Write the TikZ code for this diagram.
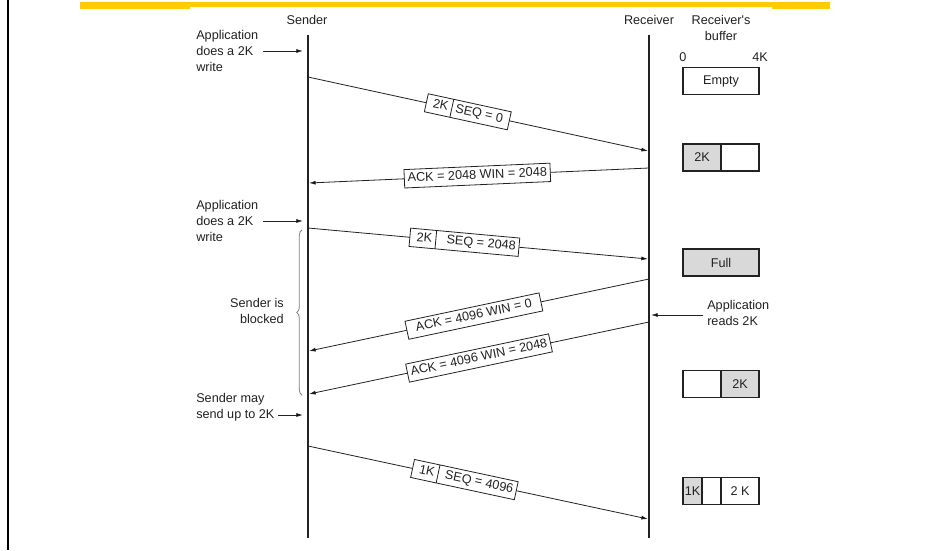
\documentclass[tikz,border=0pt]{standalone}
\usepackage{fontspec}
\setmainfont{Liberation Sans}[Ligatures=TeXOff]
\usetikzlibrary{arrows.meta,shapes.multipart,decorations.pathreplacing}
\definecolor{gold}{HTML}{FFCC00}
\definecolor{boxgray}{HTML}{D9D9D9}
\definecolor{ink}{HTML}{222222}
\begin{document}
\begin{tikzpicture}[x=0.75pt,y=-0.75pt, font=\fontsize{9.5}{12}\selectfont, text=ink,
 life/.style={draw=ink, line width=0.9pt},
 msg/.style={draw=ink, line width=0.6pt, -{Latex[length=5pt,width=3pt]}},
 lbl/.style={draw=ink, fill=white, line width=0.6pt, inner xsep=2.5pt, inner ysep=2.4pt, text height=7pt, text depth=2pt, sloped},
 splitlbl/.style={lbl, rectangle split, rectangle split horizontal, rectangle split parts=2},
 buf/.style={draw=ink, line width=0.8pt, minimum height=20.25pt, inner sep=0pt},
 note/.style={inner sep=0pt}
]
\useasboundingbox (0,0) rectangle (952,550);
\fill[white] (0,0) rectangle (952,550);
\draw[black, line width=1.5pt] (7.5,0) -- (7.5,550);
\fill[gold] (80,2) rectangle (830,8.5);
\fill[white] (190,7) rectangle (772,9);

% headings
\node[note] (hs) at (307,20) {Sender};
\node[note] (hr) at (649,20) {Receiver};
\node[note, align=center] (hb) at (721,28) {Receiver's\\buffer};
\node[note] (b0) at (683,57) {0};
\node[note] (b4) at (760,57) {4K};

% lifelines
\coordinate (st) at (308,35); \coordinate (sb) at (308,538);
\coordinate (rt) at (649,35); \coordinate (rb) at (649,538);
\draw[life] (st) -- (sb);
\draw[life] (rt) -- (rb);

% message end points
\coordinate (s1) at (308,77);  \coordinate (r1) at (648,151);
\coordinate (r2) at (649,168); \coordinate (s2) at (309,183);
\coordinate (s3) at (308,228); \coordinate (r3) at (648,259);
\coordinate (r4) at (649,279); \coordinate (s4) at (309,351);
\coordinate (r5) at (649,322); \coordinate (s5) at (309,394);
\coordinate (s6) at (308,446); \coordinate (r6) at (648,519);

\draw[msg] (s1) -- node[splitlbl, pos=.47] {\ 2K\ \nodepart{two}SEQ = 0\ \ } (r1);
\draw[msg] (r2) -- node[lbl, pos=.505] {ACK = 2048 WIN = 2048} (s2);
\draw[msg] (s3) -- node[splitlbl, pos=.46] {\ 2K \nodepart{two}\ \ SEQ = 2048\ } (r3);
\draw[msg] (r4) -- node[lbl, pos=.515, inner xsep=7pt] {ACK = 4096 WIN = 0} (s4);
\draw[msg] (r5) -- node[lbl, pos=.50] {ACK = 4096 WIN = 2048} (s5);
\draw[msg] (s6) -- node[splitlbl, pos=.46] {\ 1K \nodepart{two}\ SEQ = 4096\ } (r6);

% left annotations
\node[note, anchor=west, align=left] (a1) at (196,51) {Application\\does a 2K\\write};
\coordinate (a1e) at (303,51);
\draw[msg] (263,51) -- (a1e);
\node[note, anchor=west, align=left] (a2) at (196,221) {Application\\does a 2K\\write};
\coordinate (a2e) at (303,221);
\draw[msg] (263,221) -- (a2e);
\node[note, anchor=west, align=left] (a3) at (196,407.5) {Sender may\\send up to 2K};
\coordinate (a3e) at (303,415);
\draw[msg] (278,415) -- (a3e);
\node[note, anchor=east, align=right] (bl) at (284,311) {Sender is\\blocked};
\draw[gray, line width=0.6pt, decorate, decoration={brace, amplitude=4pt}] (302,395) -- (302,230);

% right annotation
\node[note, anchor=west, align=left] (rd) at (707,312.5) {Application\\reads 2K};
\coordinate (rde) at (651,315);
\draw[msg] (703,315) -- (rde);

% buffers
\node[buf, minimum width=57pt] (e1) at (721,81) {Empty};
\node[buf, fill=boxgray, minimum width=28.5pt] (f2a) at (702,157.5) {2K};
\node[buf, minimum width=28.5pt] (f2b) at (740,157.5) {};
\node[buf, fill=boxgray, minimum width=57pt] (f3) at (721,262.5) {Full};
\node[buf, minimum width=28.5pt] (f4a) at (702,384) {};
\node[buf, fill=boxgray, minimum width=28.5pt] (f4b) at (740,384) {2K};
\node[buf, fill=boxgray, minimum width=14.25pt] (f5a) at (692.5,491) {1K};
\node[buf, minimum width=14.25pt] (f5b) at (711.5,491) {};
\node[buf, minimum width=28.5pt] (f5c) at (740,491) {2 K};
\end{tikzpicture}
\end{document}
